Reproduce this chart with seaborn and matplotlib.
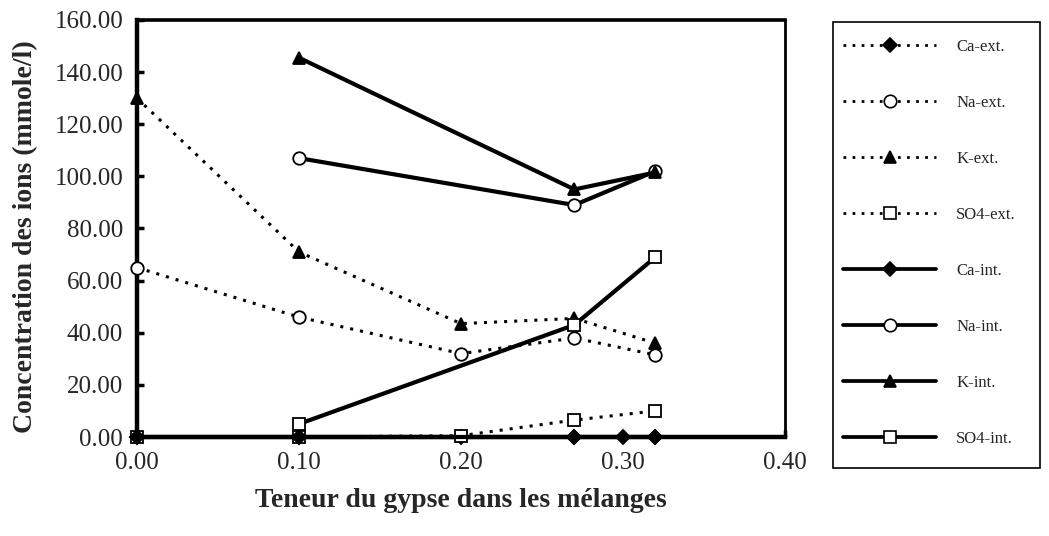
import matplotlib
matplotlib.use("Agg")
import matplotlib.pyplot as plt
from matplotlib.lines import Line2D
from matplotlib.patches import Rectangle
import seaborn as sns
import pandas as pd

sns.set_style("ticks")
plt.rcParams["font.family"] = ["Liberation Serif", "DejaVu Serif"]

# Gypsum content in the mixtures and ion concentrations (mmole/l)
ca_ext_x = [0.00, 0.10, 0.20, 0.27, 0.32]
ca_ext_y = [0.0, 0.0, 0.0, 0.0, 0.0]
na_ext_x = [0.00, 0.10, 0.20, 0.27, 0.32]
na_ext_y = [65.0, 46.0, 32.0, 38.0, 31.5]
k_ext_x = [0.00, 0.10, 0.20, 0.27, 0.32]
k_ext_y = [130.0, 71.0, 43.5, 45.5, 36.0]
so4_ext_x = [0.00, 0.10, 0.20, 0.27, 0.32]
so4_ext_y = [0.0, 0.0, 0.5, 6.5, 10.0]

ca_int_x = [0.00, 0.10, 0.27, 0.30, 0.32]
ca_int_y = [0.0, 0.0, 0.0, 0.0, 0.0]
na_int_x = [0.10, 0.27, 0.32]
na_int_y = [107.0, 89.0, 102.0]
k_int_x = [0.10, 0.27, 0.32]
k_int_y = [145.5, 95.0, 101.5]
so4_int_x = [0.10, 0.27, 0.32]
so4_int_y = [5.0, 43.0, 69.0]

x_ticks = [0.00, 0.10, 0.20, 0.30, 0.40]
y_ticks = [0, 20, 40, 60, 80, 100, 120, 140, 160]

dotted = (0, (1.0, 2.3))
series = [
    ("Ca-ext.", ca_ext_x, ca_ext_y, "D", "black", dotted, 2.2),
    ("Na-ext.", na_ext_x, na_ext_y, "o", "white", dotted, 2.2),
    ("K-ext.", k_ext_x, k_ext_y, "^", "black", dotted, 2.2),
    ("SO4-ext.", so4_ext_x, so4_ext_y, "s", "white", dotted, 2.2),
    ("Ca-int.", ca_int_x, ca_int_y, "D", "black", "-", 3.0),
    ("Na-int.", na_int_x, na_int_y, "o", "white", "-", 3.0),
    ("K-int.", k_int_x, k_int_y, "^", "black", "-", 3.0),
    ("SO4-int.", so4_int_x, so4_int_y, "s", "white", "-", 3.0),
]
msizes = {"D": 7, "o": 9, "^": 9, "s": 9}

fig = plt.figure(figsize=(10.49, 5.36), dpi=100)
ax = fig.add_axes([0.1306, 0.1847, 0.6177, 0.778])

handles = []
for label, xs, ys, mk, fc, ls, lw in series:
    df = pd.DataFrame({"x": xs, "y": ys})
    sns.lineplot(data=df, x="x", y="y", ax=ax, color="black", linestyle=ls,
                 linewidth=lw, marker=mk, markersize=msizes[mk],
                 markerfacecolor=fc, markeredgecolor="black",
                 markeredgewidth=1.3, clip_on=False, zorder=3)
    handles.append(Line2D([], [], color="black", linestyle=ls,
                          linewidth=lw * 0.9, marker=mk,
                          markersize=msizes[mk], markerfacecolor=fc,
                          markeredgecolor="black", markeredgewidth=1.2,
                          label=label))

ax.set_xlim(0, 0.40)
ax.set_ylim(0, 160)
ax.set_xticks(x_ticks)
ax.set_xticklabels([f"{v:.2f}" for v in x_ticks])
ax.set_yticks(y_ticks)
ax.set_yticklabels([f"{v:.2f}" for v in y_ticks])
ax.tick_params(axis="both", direction="in", length=5, width=2.5,
               labelsize=18, color="black")
ax.tick_params(axis="y", pad=10)
ax.tick_params(axis="x", pad=11)
for side, w in [("left", 3.2), ("bottom", 3.2), ("top", 2.6), ("right", 2.0)]:
    ax.spines[side].set_visible(True)
    ax.spines[side].set_color("black")
    ax.spines[side].set_linewidth(w)

ax.set_xlabel("Teneur du gypse dans les mélanges", fontsize=20,
              fontweight="bold", va="top")
ax.xaxis.set_label_coords(0.5, -0.122)
ax.set_ylabel("Concentration des ions (mmole/l)", fontsize=20,
              fontweight="bold")
ax.yaxis.set_label_coords(-0.152, 0.48)

# Legend panel with its own frame to the right of the plot
fig.patches.append(Rectangle((833 / 1049, 1 - 468 / 536), 207 / 1049,
                             446 / 536, transform=fig.transFigure,
                             fill=False, edgecolor="black", linewidth=1.2))
fig.legend(handles=handles, loc="upper left",
           bbox_to_anchor=(843 / 1049, 1 - 39 / 536), borderaxespad=0,
           borderpad=0, frameon=False, fontsize=12, handlelength=5.6,
           handletextpad=1.2, labelspacing=2.4)

fig.savefig("out.png", dpi=100, facecolor="white")
